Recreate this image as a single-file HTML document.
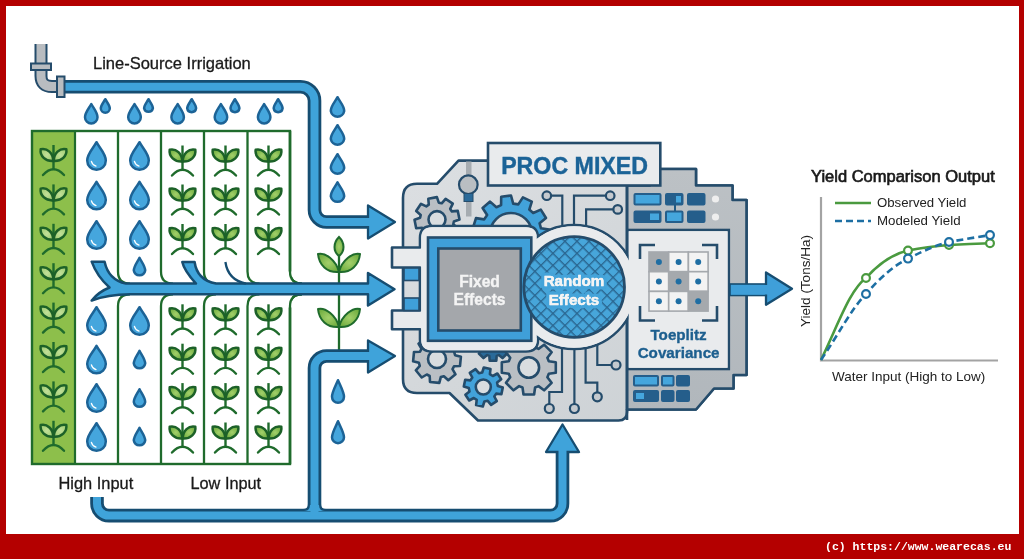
<!DOCTYPE html>
<html><head><meta charset="utf-8"><style>
html,body{margin:0;padding:0;width:1024px;height:559px;overflow:hidden;background:#b40000;}
#frame{position:absolute;left:6px;top:6px;width:1013px;height:528px;background:#ffffff;}
svg{position:absolute;left:0;top:0;will-change:transform;}
text{font-family:"Liberation Sans",sans-serif;}
#copy{position:absolute;left:825px;top:539px;font-family:"Liberation Mono",monospace;font-weight:bold;font-size:11.5px;color:#fff;white-space:pre;line-height:16px;}
</style></head><body>
<div id="frame"></div>
<svg width="1024" height="559" viewBox="0 0 1024 559">
<defs><radialGradient id="lg" cx="0.5" cy="0.5" r="0.6"><stop offset="0" stop-color="#a3d06b"/><stop offset="1" stop-color="#6dab3d"/></radialGradient><radialGradient id="lg1" cx="0.5" cy="0.5" r="0.6"><stop offset="0" stop-color="#c2e09a"/><stop offset="1" stop-color="#9fcc6e"/></radialGradient></defs>
<rect x="32" y="131" width="43" height="333" fill="#8dbf4b"/>
<path d="M53.5,145.0 L53.5,169.0" stroke="#1f6b2c" stroke-width="2.4" fill="none"/>
<path d="M40.7,149.2 C39.6,155.9 45.6,161.5 53.2,161.0 C53.3,153.4 47.3,147.7 40.7,149.2Z" fill="url(#lg1)" stroke="#1c6128" stroke-width="2.5" stroke-linejoin="round"/>
<path d="M66.3,149.2 C67.4,155.9 61.4,161.5 53.8,161.0 C53.7,153.4 59.7,147.7 66.3,149.2Z" fill="url(#lg1)" stroke="#1c6128" stroke-width="2.5" stroke-linejoin="round"/>
<path d="M43.0,175.0 Q53.5,163.4 64.0,175.0" stroke="#1f6b2c" stroke-width="2.4" fill="none" stroke-linecap="round"/>
<path d="M53.5,184.4 L53.5,208.4" stroke="#1f6b2c" stroke-width="2.4" fill="none"/>
<path d="M40.7,188.6 C39.6,195.3 45.6,200.9 53.2,200.4 C53.3,192.8 47.3,187.1 40.7,188.6Z" fill="url(#lg1)" stroke="#1c6128" stroke-width="2.5" stroke-linejoin="round"/>
<path d="M66.3,188.6 C67.4,195.3 61.4,200.9 53.8,200.4 C53.7,192.8 59.7,187.1 66.3,188.6Z" fill="url(#lg1)" stroke="#1c6128" stroke-width="2.5" stroke-linejoin="round"/>
<path d="M43.0,214.4 Q53.5,202.8 64.0,214.4" stroke="#1f6b2c" stroke-width="2.4" fill="none" stroke-linecap="round"/>
<path d="M53.5,223.8 L53.5,247.8" stroke="#1f6b2c" stroke-width="2.4" fill="none"/>
<path d="M40.7,228.0 C39.6,234.7 45.6,240.3 53.2,239.8 C53.3,232.2 47.3,226.5 40.7,228.0Z" fill="url(#lg1)" stroke="#1c6128" stroke-width="2.5" stroke-linejoin="round"/>
<path d="M66.3,228.0 C67.4,234.7 61.4,240.3 53.8,239.8 C53.7,232.2 59.7,226.5 66.3,228.0Z" fill="url(#lg1)" stroke="#1c6128" stroke-width="2.5" stroke-linejoin="round"/>
<path d="M43.0,253.8 Q53.5,242.20000000000002 64.0,253.8" stroke="#1f6b2c" stroke-width="2.4" fill="none" stroke-linecap="round"/>
<path d="M53.5,263.2 L53.5,287.2" stroke="#1f6b2c" stroke-width="2.4" fill="none"/>
<path d="M40.7,267.4 C39.6,274.1 45.6,279.7 53.2,279.2 C53.3,271.6 47.3,265.9 40.7,267.4Z" fill="url(#lg1)" stroke="#1c6128" stroke-width="2.5" stroke-linejoin="round"/>
<path d="M66.3,267.4 C67.4,274.1 61.4,279.7 53.8,279.2 C53.7,271.6 59.7,265.9 66.3,267.4Z" fill="url(#lg1)" stroke="#1c6128" stroke-width="2.5" stroke-linejoin="round"/>
<path d="M43.0,293.2 Q53.5,281.59999999999997 64.0,293.2" stroke="#1f6b2c" stroke-width="2.4" fill="none" stroke-linecap="round"/>
<path d="M53.5,302.6 L53.5,326.6" stroke="#1f6b2c" stroke-width="2.4" fill="none"/>
<path d="M40.7,306.8 C39.6,313.5 45.6,319.1 53.2,318.6 C53.3,311.0 47.3,305.3 40.7,306.8Z" fill="url(#lg1)" stroke="#1c6128" stroke-width="2.5" stroke-linejoin="round"/>
<path d="M66.3,306.8 C67.4,313.5 61.4,319.1 53.8,318.6 C53.7,311.0 59.7,305.3 66.3,306.8Z" fill="url(#lg1)" stroke="#1c6128" stroke-width="2.5" stroke-linejoin="round"/>
<path d="M43.0,332.6 Q53.5,321.0 64.0,332.6" stroke="#1f6b2c" stroke-width="2.4" fill="none" stroke-linecap="round"/>
<path d="M53.5,342.0 L53.5,366.0" stroke="#1f6b2c" stroke-width="2.4" fill="none"/>
<path d="M40.7,346.2 C39.6,352.9 45.6,358.5 53.2,358.0 C53.3,350.4 47.3,344.7 40.7,346.2Z" fill="url(#lg1)" stroke="#1c6128" stroke-width="2.5" stroke-linejoin="round"/>
<path d="M66.3,346.2 C67.4,352.9 61.4,358.5 53.8,358.0 C53.7,350.4 59.7,344.7 66.3,346.2Z" fill="url(#lg1)" stroke="#1c6128" stroke-width="2.5" stroke-linejoin="round"/>
<path d="M43.0,372.0 Q53.5,360.4 64.0,372.0" stroke="#1f6b2c" stroke-width="2.4" fill="none" stroke-linecap="round"/>
<path d="M53.5,381.4 L53.5,405.4" stroke="#1f6b2c" stroke-width="2.4" fill="none"/>
<path d="M40.7,385.6 C39.6,392.3 45.6,397.9 53.2,397.4 C53.3,389.8 47.3,384.1 40.7,385.6Z" fill="url(#lg1)" stroke="#1c6128" stroke-width="2.5" stroke-linejoin="round"/>
<path d="M66.3,385.6 C67.4,392.3 61.4,397.9 53.8,397.4 C53.7,389.8 59.7,384.1 66.3,385.6Z" fill="url(#lg1)" stroke="#1c6128" stroke-width="2.5" stroke-linejoin="round"/>
<path d="M43.0,411.4 Q53.5,399.79999999999995 64.0,411.4" stroke="#1f6b2c" stroke-width="2.4" fill="none" stroke-linecap="round"/>
<path d="M53.5,420.8 L53.5,444.8" stroke="#1f6b2c" stroke-width="2.4" fill="none"/>
<path d="M40.7,425.0 C39.6,431.7 45.6,437.3 53.2,436.8 C53.3,429.2 47.3,423.5 40.7,425.0Z" fill="url(#lg1)" stroke="#1c6128" stroke-width="2.5" stroke-linejoin="round"/>
<path d="M66.3,425.0 C67.4,431.7 61.4,437.3 53.8,436.8 C53.7,429.2 59.7,423.5 66.3,425.0Z" fill="url(#lg1)" stroke="#1c6128" stroke-width="2.5" stroke-linejoin="round"/>
<path d="M43.0,450.8 Q53.5,439.2 64.0,450.8" stroke="#1f6b2c" stroke-width="2.4" fill="none" stroke-linecap="round"/>
<path d="M58,86.8 L300.5,86.8 A14,14 0 0 1 314.5,100.8 L314.5,210 A12,12 0 0 0 326.5,222 L373,222" fill="none" stroke="#164d71" stroke-width="13.6" stroke-linejoin="round"/>
<path d="M368,205.5 L395,222 L368,238.5 Z" fill="#3fa3da" stroke="#164d71" stroke-width="2.3" stroke-linejoin="round"/>
<path d="M58,86.8 L300.5,86.8 A14,14 0 0 1 314.5,100.8 L314.5,210 A12,12 0 0 0 326.5,222 L373,222" fill="none" stroke="#3fa3da" stroke-width="8" stroke-linejoin="round"/>
<rect x="32" y="131" width="258" height="333" fill="none" stroke="#1f6b2c" stroke-width="2.4"/>
<line x1="75" y1="131" x2="75" y2="464" stroke="#1f6b2c" stroke-width="2.2"/>
<path d="M118,131 L118,271.6 Q118,283.6 130,283.6" fill="none" stroke="#1f6b2c" stroke-width="2.3"/>
<path d="M161,131 L161,271.6 Q161,283.6 173,283.6" fill="none" stroke="#1f6b2c" stroke-width="2.3"/>
<path d="M204,131 L204,271.6 Q204,283.6 216,283.6" fill="none" stroke="#1f6b2c" stroke-width="2.3"/>
<path d="M247.5,131 L247.5,271.6 Q247.5,283.6 259.5,283.6" fill="none" stroke="#1f6b2c" stroke-width="2.3"/>
<path d="M290,131 L290,271.6 Q290,283.6 302,283.6" fill="none" stroke="#1f6b2c" stroke-width="2.3"/>
<path d="M118,464 L118,306.3 Q118,294.3 130,294.3" fill="none" stroke="#1f6b2c" stroke-width="2.3"/>
<path d="M161,464 L161,306.3 Q161,294.3 173,294.3" fill="none" stroke="#1f6b2c" stroke-width="2.3"/>
<path d="M204,464 L204,306.3 Q204,294.3 216,294.3" fill="none" stroke="#1f6b2c" stroke-width="2.3"/>
<path d="M247.5,464 L247.5,306.3 Q247.5,294.3 259.5,294.3" fill="none" stroke="#1f6b2c" stroke-width="2.3"/>
<path d="M290,464 L290,306.3 Q290,294.3 302,294.3" fill="none" stroke="#1f6b2c" stroke-width="2.3"/>
<rect x="288" y="271.5" width="4" height="36" fill="#ffffff"/>
<path d="M290,131 L290,271.6 Q290,283.6 302,283.6" fill="none" stroke="#1f6b2c" stroke-width="2.3"/>
<path d="M290,464 L290,306.3 Q290,294.3 302,294.3" fill="none" stroke="#1f6b2c" stroke-width="2.3"/>
<path d="M339,250 L339,350" stroke="#1f6b2c" stroke-width="2.3"/>
<path d="M91.7,261.7 L104.6,261.7 C107,273 114,281 126,283.6 L196,283.6 C190,277 184,270 182.3,262 L194.6,262 C196,272 202,281 216,283.6 L368,283.6 L368,273 L394.5,289.2 L368,305.5 L368,294.3 L130,294.3 C114,294.5 101,297 91.7,300.5 C96,295 102,290.5 109.5,287.5 C101,280 95,271 91.7,261.7 Z" fill="#3fa3da" stroke="#164d71" stroke-width="2.5" stroke-linejoin="round"/>
<path d="M225.4,262 C227,273 233,281 246,283.6" fill="none" stroke="#164d71" stroke-width="2.3"/>
<path d="M96.5,142.2 C99.7,148.3 105.8,153.6 105.8,160.5 A9.2,9.2 0 0 1 87.2,160.5 C87.2,153.6 93.3,148.3 96.5,142.2Z" fill="#45a6dd" stroke="#1c6396" stroke-width="2.5" stroke-linejoin="round"/>
<path d="M91.4,161.4 Q92.3,165.1 96.0,166.1" fill="none" stroke="#ffffff" stroke-width="1.3" stroke-linecap="round"/>
<path d="M96.5,181.8 C99.7,187.8 105.8,193.1 105.8,200.0 A9.2,9.2 0 0 1 87.2,200.0 C87.2,193.1 93.3,187.8 96.5,181.8Z" fill="#45a6dd" stroke="#1c6396" stroke-width="2.5" stroke-linejoin="round"/>
<path d="M91.4,200.9 Q92.3,204.6 96.0,205.6" fill="none" stroke="#ffffff" stroke-width="1.3" stroke-linecap="round"/>
<path d="M96.5,221.2 C99.7,227.3 105.8,232.6 105.8,239.5 A9.2,9.2 0 0 1 87.2,239.5 C87.2,232.6 93.3,227.3 96.5,221.2Z" fill="#45a6dd" stroke="#1c6396" stroke-width="2.5" stroke-linejoin="round"/>
<path d="M91.4,240.4 Q92.3,244.1 96.0,245.1" fill="none" stroke="#ffffff" stroke-width="1.3" stroke-linecap="round"/>
<path d="M139.5,142.2 C142.7,148.3 148.8,153.6 148.8,160.5 A9.2,9.2 0 0 1 130.2,160.5 C130.2,153.6 136.3,148.3 139.5,142.2Z" fill="#45a6dd" stroke="#1c6396" stroke-width="2.5" stroke-linejoin="round"/>
<path d="M134.4,161.4 Q135.3,165.1 139.0,166.1" fill="none" stroke="#ffffff" stroke-width="1.3" stroke-linecap="round"/>
<path d="M139.5,181.8 C142.7,187.8 148.8,193.1 148.8,200.0 A9.2,9.2 0 0 1 130.2,200.0 C130.2,193.1 136.3,187.8 139.5,181.8Z" fill="#45a6dd" stroke="#1c6396" stroke-width="2.5" stroke-linejoin="round"/>
<path d="M134.4,200.9 Q135.3,204.6 139.0,205.6" fill="none" stroke="#ffffff" stroke-width="1.3" stroke-linecap="round"/>
<path d="M139.5,221.2 C142.7,227.3 148.8,232.6 148.8,239.5 A9.2,9.2 0 0 1 130.2,239.5 C130.2,232.6 136.3,227.3 139.5,221.2Z" fill="#45a6dd" stroke="#1c6396" stroke-width="2.5" stroke-linejoin="round"/>
<path d="M134.4,240.4 Q135.3,244.1 139.0,245.1" fill="none" stroke="#ffffff" stroke-width="1.3" stroke-linecap="round"/>
<path d="M139.5,257.8 C141.5,261.8 145.2,266.2 145.2,270.5 A5.8,5.8 0 0 1 133.8,270.5 C133.8,266.2 137.5,261.8 139.5,257.8Z" fill="#45a6dd" stroke="#1c6396" stroke-width="2.5" stroke-linejoin="round"/>
<path d="M96.5,307.2 C99.7,313.3 105.8,318.6 105.8,325.5 A9.2,9.2 0 0 1 87.2,325.5 C87.2,318.6 93.3,313.3 96.5,307.2Z" fill="#45a6dd" stroke="#1c6396" stroke-width="2.5" stroke-linejoin="round"/>
<path d="M91.4,326.4 Q92.3,330.1 96.0,331.1" fill="none" stroke="#ffffff" stroke-width="1.3" stroke-linecap="round"/>
<path d="M96.5,345.8 C99.7,351.8 105.8,357.1 105.8,364.0 A9.2,9.2 0 0 1 87.2,364.0 C87.2,357.1 93.3,351.8 96.5,345.8Z" fill="#45a6dd" stroke="#1c6396" stroke-width="2.5" stroke-linejoin="round"/>
<path d="M91.4,364.9 Q92.3,368.6 96.0,369.6" fill="none" stroke="#ffffff" stroke-width="1.3" stroke-linecap="round"/>
<path d="M96.5,384.2 C99.7,390.3 105.8,395.6 105.8,402.5 A9.2,9.2 0 0 1 87.2,402.5 C87.2,395.6 93.3,390.3 96.5,384.2Z" fill="#45a6dd" stroke="#1c6396" stroke-width="2.5" stroke-linejoin="round"/>
<path d="M91.4,403.4 Q92.3,407.1 96.0,408.1" fill="none" stroke="#ffffff" stroke-width="1.3" stroke-linecap="round"/>
<path d="M96.5,423.2 C99.7,429.3 105.8,434.6 105.8,441.5 A9.2,9.2 0 0 1 87.2,441.5 C87.2,434.6 93.3,429.3 96.5,423.2Z" fill="#45a6dd" stroke="#1c6396" stroke-width="2.5" stroke-linejoin="round"/>
<path d="M91.4,442.4 Q92.3,446.1 96.0,447.1" fill="none" stroke="#ffffff" stroke-width="1.3" stroke-linecap="round"/>
<path d="M139.5,307.2 C142.7,313.3 148.8,318.6 148.8,325.5 A9.2,9.2 0 0 1 130.2,325.5 C130.2,318.6 136.3,313.3 139.5,307.2Z" fill="#45a6dd" stroke="#1c6396" stroke-width="2.5" stroke-linejoin="round"/>
<path d="M134.4,326.4 Q135.3,330.1 139.0,331.1" fill="none" stroke="#ffffff" stroke-width="1.3" stroke-linecap="round"/>
<path d="M139.5,350.8 C141.5,354.8 145.2,359.2 145.2,363.5 A5.8,5.8 0 0 1 133.8,363.5 C133.8,359.2 137.5,354.8 139.5,350.8Z" fill="#45a6dd" stroke="#1c6396" stroke-width="2.5" stroke-linejoin="round"/>
<path d="M139.5,389.2 C141.5,393.3 145.2,397.7 145.2,402.0 A5.8,5.8 0 0 1 133.8,402.0 C133.8,397.7 137.5,393.3 139.5,389.2Z" fill="#45a6dd" stroke="#1c6396" stroke-width="2.5" stroke-linejoin="round"/>
<path d="M139.5,427.8 C141.5,431.8 145.2,436.2 145.2,440.5 A5.8,5.8 0 0 1 133.8,440.5 C133.8,436.2 137.5,431.8 139.5,427.8Z" fill="#45a6dd" stroke="#1c6396" stroke-width="2.5" stroke-linejoin="round"/>
<path d="M182.5,145.5 L182.5,169.5" stroke="#1f6b2c" stroke-width="2.4" fill="none"/>
<path d="M169.7,149.7 C168.6,156.4 174.6,162.0 182.2,161.5 C182.3,153.9 176.3,148.2 169.7,149.7Z" fill="url(#lg)" stroke="#1c6128" stroke-width="2.5" stroke-linejoin="round"/>
<path d="M195.3,149.7 C196.4,156.4 190.4,162.0 182.8,161.5 C182.7,153.9 188.7,148.2 195.3,149.7Z" fill="url(#lg)" stroke="#1c6128" stroke-width="2.5" stroke-linejoin="round"/>
<path d="M172.0,175.5 Q182.5,163.9 193.0,175.5" stroke="#1f6b2c" stroke-width="2.4" fill="none" stroke-linecap="round"/>
<path d="M182.5,184.5 L182.5,208.5" stroke="#1f6b2c" stroke-width="2.4" fill="none"/>
<path d="M169.7,188.7 C168.6,195.4 174.6,201.0 182.2,200.5 C182.3,192.9 176.3,187.2 169.7,188.7Z" fill="url(#lg)" stroke="#1c6128" stroke-width="2.5" stroke-linejoin="round"/>
<path d="M195.3,188.7 C196.4,195.4 190.4,201.0 182.8,200.5 C182.7,192.9 188.7,187.2 195.3,188.7Z" fill="url(#lg)" stroke="#1c6128" stroke-width="2.5" stroke-linejoin="round"/>
<path d="M172.0,214.5 Q182.5,202.9 193.0,214.5" stroke="#1f6b2c" stroke-width="2.4" fill="none" stroke-linecap="round"/>
<path d="M182.5,224.0 L182.5,248.0" stroke="#1f6b2c" stroke-width="2.4" fill="none"/>
<path d="M169.7,228.2 C168.6,234.9 174.6,240.5 182.2,240.0 C182.3,232.4 176.3,226.7 169.7,228.2Z" fill="url(#lg)" stroke="#1c6128" stroke-width="2.5" stroke-linejoin="round"/>
<path d="M195.3,228.2 C196.4,234.9 190.4,240.5 182.8,240.0 C182.7,232.4 188.7,226.7 195.3,228.2Z" fill="url(#lg)" stroke="#1c6128" stroke-width="2.5" stroke-linejoin="round"/>
<path d="M172.0,254.0 Q182.5,242.4 193.0,254.0" stroke="#1f6b2c" stroke-width="2.4" fill="none" stroke-linecap="round"/>
<path d="M182.5,304.3 L182.5,328.3" stroke="#1f6b2c" stroke-width="2.4" fill="none"/>
<path d="M169.7,308.5 C168.6,315.2 174.6,320.8 182.2,320.3 C182.3,312.7 176.3,307.0 169.7,308.5Z" fill="url(#lg)" stroke="#1c6128" stroke-width="2.5" stroke-linejoin="round"/>
<path d="M195.3,308.5 C196.4,315.2 190.4,320.8 182.8,320.3 C182.7,312.7 188.7,307.0 195.3,308.5Z" fill="url(#lg)" stroke="#1c6128" stroke-width="2.5" stroke-linejoin="round"/>
<path d="M172.0,334.3 Q182.5,322.7 193.0,334.3" stroke="#1f6b2c" stroke-width="2.4" fill="none" stroke-linecap="round"/>
<path d="M182.5,343.7 L182.5,367.7" stroke="#1f6b2c" stroke-width="2.4" fill="none"/>
<path d="M169.7,347.9 C168.6,354.6 174.6,360.2 182.2,359.7 C182.3,352.1 176.3,346.4 169.7,347.9Z" fill="url(#lg)" stroke="#1c6128" stroke-width="2.5" stroke-linejoin="round"/>
<path d="M195.3,347.9 C196.4,354.6 190.4,360.2 182.8,359.7 C182.7,352.1 188.7,346.4 195.3,347.9Z" fill="url(#lg)" stroke="#1c6128" stroke-width="2.5" stroke-linejoin="round"/>
<path d="M172.0,373.7 Q182.5,362.09999999999997 193.0,373.7" stroke="#1f6b2c" stroke-width="2.4" fill="none" stroke-linecap="round"/>
<path d="M182.5,383.1 L182.5,407.1" stroke="#1f6b2c" stroke-width="2.4" fill="none"/>
<path d="M169.7,387.3 C168.6,394.0 174.6,399.6 182.2,399.1 C182.3,391.5 176.3,385.8 169.7,387.3Z" fill="url(#lg)" stroke="#1c6128" stroke-width="2.5" stroke-linejoin="round"/>
<path d="M195.3,387.3 C196.4,394.0 190.4,399.6 182.8,399.1 C182.7,391.5 188.7,385.8 195.3,387.3Z" fill="url(#lg)" stroke="#1c6128" stroke-width="2.5" stroke-linejoin="round"/>
<path d="M172.0,413.1 Q182.5,401.5 193.0,413.1" stroke="#1f6b2c" stroke-width="2.4" fill="none" stroke-linecap="round"/>
<path d="M182.5,422.5 L182.5,446.5" stroke="#1f6b2c" stroke-width="2.4" fill="none"/>
<path d="M169.7,426.7 C168.6,433.4 174.6,439.0 182.2,438.5 C182.3,430.9 176.3,425.2 169.7,426.7Z" fill="url(#lg)" stroke="#1c6128" stroke-width="2.5" stroke-linejoin="round"/>
<path d="M195.3,426.7 C196.4,433.4 190.4,439.0 182.8,438.5 C182.7,430.9 188.7,425.2 195.3,426.7Z" fill="url(#lg)" stroke="#1c6128" stroke-width="2.5" stroke-linejoin="round"/>
<path d="M172.0,452.5 Q182.5,440.9 193.0,452.5" stroke="#1f6b2c" stroke-width="2.4" fill="none" stroke-linecap="round"/>
<path d="M225.5,145.5 L225.5,169.5" stroke="#1f6b2c" stroke-width="2.4" fill="none"/>
<path d="M212.7,149.7 C211.6,156.4 217.6,162.0 225.2,161.5 C225.3,153.9 219.3,148.2 212.7,149.7Z" fill="url(#lg)" stroke="#1c6128" stroke-width="2.5" stroke-linejoin="round"/>
<path d="M238.3,149.7 C239.4,156.4 233.4,162.0 225.8,161.5 C225.7,153.9 231.7,148.2 238.3,149.7Z" fill="url(#lg)" stroke="#1c6128" stroke-width="2.5" stroke-linejoin="round"/>
<path d="M215.0,175.5 Q225.5,163.9 236.0,175.5" stroke="#1f6b2c" stroke-width="2.4" fill="none" stroke-linecap="round"/>
<path d="M225.5,184.5 L225.5,208.5" stroke="#1f6b2c" stroke-width="2.4" fill="none"/>
<path d="M212.7,188.7 C211.6,195.4 217.6,201.0 225.2,200.5 C225.3,192.9 219.3,187.2 212.7,188.7Z" fill="url(#lg)" stroke="#1c6128" stroke-width="2.5" stroke-linejoin="round"/>
<path d="M238.3,188.7 C239.4,195.4 233.4,201.0 225.8,200.5 C225.7,192.9 231.7,187.2 238.3,188.7Z" fill="url(#lg)" stroke="#1c6128" stroke-width="2.5" stroke-linejoin="round"/>
<path d="M215.0,214.5 Q225.5,202.9 236.0,214.5" stroke="#1f6b2c" stroke-width="2.4" fill="none" stroke-linecap="round"/>
<path d="M225.5,224.0 L225.5,248.0" stroke="#1f6b2c" stroke-width="2.4" fill="none"/>
<path d="M212.7,228.2 C211.6,234.9 217.6,240.5 225.2,240.0 C225.3,232.4 219.3,226.7 212.7,228.2Z" fill="url(#lg)" stroke="#1c6128" stroke-width="2.5" stroke-linejoin="round"/>
<path d="M238.3,228.2 C239.4,234.9 233.4,240.5 225.8,240.0 C225.7,232.4 231.7,226.7 238.3,228.2Z" fill="url(#lg)" stroke="#1c6128" stroke-width="2.5" stroke-linejoin="round"/>
<path d="M215.0,254.0 Q225.5,242.4 236.0,254.0" stroke="#1f6b2c" stroke-width="2.4" fill="none" stroke-linecap="round"/>
<path d="M225.5,304.3 L225.5,328.3" stroke="#1f6b2c" stroke-width="2.4" fill="none"/>
<path d="M212.7,308.5 C211.6,315.2 217.6,320.8 225.2,320.3 C225.3,312.7 219.3,307.0 212.7,308.5Z" fill="url(#lg)" stroke="#1c6128" stroke-width="2.5" stroke-linejoin="round"/>
<path d="M238.3,308.5 C239.4,315.2 233.4,320.8 225.8,320.3 C225.7,312.7 231.7,307.0 238.3,308.5Z" fill="url(#lg)" stroke="#1c6128" stroke-width="2.5" stroke-linejoin="round"/>
<path d="M215.0,334.3 Q225.5,322.7 236.0,334.3" stroke="#1f6b2c" stroke-width="2.4" fill="none" stroke-linecap="round"/>
<path d="M225.5,343.7 L225.5,367.7" stroke="#1f6b2c" stroke-width="2.4" fill="none"/>
<path d="M212.7,347.9 C211.6,354.6 217.6,360.2 225.2,359.7 C225.3,352.1 219.3,346.4 212.7,347.9Z" fill="url(#lg)" stroke="#1c6128" stroke-width="2.5" stroke-linejoin="round"/>
<path d="M238.3,347.9 C239.4,354.6 233.4,360.2 225.8,359.7 C225.7,352.1 231.7,346.4 238.3,347.9Z" fill="url(#lg)" stroke="#1c6128" stroke-width="2.5" stroke-linejoin="round"/>
<path d="M215.0,373.7 Q225.5,362.09999999999997 236.0,373.7" stroke="#1f6b2c" stroke-width="2.4" fill="none" stroke-linecap="round"/>
<path d="M225.5,383.1 L225.5,407.1" stroke="#1f6b2c" stroke-width="2.4" fill="none"/>
<path d="M212.7,387.3 C211.6,394.0 217.6,399.6 225.2,399.1 C225.3,391.5 219.3,385.8 212.7,387.3Z" fill="url(#lg)" stroke="#1c6128" stroke-width="2.5" stroke-linejoin="round"/>
<path d="M238.3,387.3 C239.4,394.0 233.4,399.6 225.8,399.1 C225.7,391.5 231.7,385.8 238.3,387.3Z" fill="url(#lg)" stroke="#1c6128" stroke-width="2.5" stroke-linejoin="round"/>
<path d="M215.0,413.1 Q225.5,401.5 236.0,413.1" stroke="#1f6b2c" stroke-width="2.4" fill="none" stroke-linecap="round"/>
<path d="M225.5,422.5 L225.5,446.5" stroke="#1f6b2c" stroke-width="2.4" fill="none"/>
<path d="M212.7,426.7 C211.6,433.4 217.6,439.0 225.2,438.5 C225.3,430.9 219.3,425.2 212.7,426.7Z" fill="url(#lg)" stroke="#1c6128" stroke-width="2.5" stroke-linejoin="round"/>
<path d="M238.3,426.7 C239.4,433.4 233.4,439.0 225.8,438.5 C225.7,430.9 231.7,425.2 238.3,426.7Z" fill="url(#lg)" stroke="#1c6128" stroke-width="2.5" stroke-linejoin="round"/>
<path d="M215.0,452.5 Q225.5,440.9 236.0,452.5" stroke="#1f6b2c" stroke-width="2.4" fill="none" stroke-linecap="round"/>
<path d="M268.5,145.5 L268.5,169.5" stroke="#1f6b2c" stroke-width="2.4" fill="none"/>
<path d="M255.7,149.7 C254.6,156.4 260.6,162.0 268.2,161.5 C268.3,153.9 262.3,148.2 255.7,149.7Z" fill="url(#lg)" stroke="#1c6128" stroke-width="2.5" stroke-linejoin="round"/>
<path d="M281.3,149.7 C282.4,156.4 276.4,162.0 268.8,161.5 C268.7,153.9 274.7,148.2 281.3,149.7Z" fill="url(#lg)" stroke="#1c6128" stroke-width="2.5" stroke-linejoin="round"/>
<path d="M258.0,175.5 Q268.5,163.9 279.0,175.5" stroke="#1f6b2c" stroke-width="2.4" fill="none" stroke-linecap="round"/>
<path d="M268.5,184.5 L268.5,208.5" stroke="#1f6b2c" stroke-width="2.4" fill="none"/>
<path d="M255.7,188.7 C254.6,195.4 260.6,201.0 268.2,200.5 C268.3,192.9 262.3,187.2 255.7,188.7Z" fill="url(#lg)" stroke="#1c6128" stroke-width="2.5" stroke-linejoin="round"/>
<path d="M281.3,188.7 C282.4,195.4 276.4,201.0 268.8,200.5 C268.7,192.9 274.7,187.2 281.3,188.7Z" fill="url(#lg)" stroke="#1c6128" stroke-width="2.5" stroke-linejoin="round"/>
<path d="M258.0,214.5 Q268.5,202.9 279.0,214.5" stroke="#1f6b2c" stroke-width="2.4" fill="none" stroke-linecap="round"/>
<path d="M268.5,224.0 L268.5,248.0" stroke="#1f6b2c" stroke-width="2.4" fill="none"/>
<path d="M255.7,228.2 C254.6,234.9 260.6,240.5 268.2,240.0 C268.3,232.4 262.3,226.7 255.7,228.2Z" fill="url(#lg)" stroke="#1c6128" stroke-width="2.5" stroke-linejoin="round"/>
<path d="M281.3,228.2 C282.4,234.9 276.4,240.5 268.8,240.0 C268.7,232.4 274.7,226.7 281.3,228.2Z" fill="url(#lg)" stroke="#1c6128" stroke-width="2.5" stroke-linejoin="round"/>
<path d="M258.0,254.0 Q268.5,242.4 279.0,254.0" stroke="#1f6b2c" stroke-width="2.4" fill="none" stroke-linecap="round"/>
<path d="M268.5,304.3 L268.5,328.3" stroke="#1f6b2c" stroke-width="2.4" fill="none"/>
<path d="M255.7,308.5 C254.6,315.2 260.6,320.8 268.2,320.3 C268.3,312.7 262.3,307.0 255.7,308.5Z" fill="url(#lg)" stroke="#1c6128" stroke-width="2.5" stroke-linejoin="round"/>
<path d="M281.3,308.5 C282.4,315.2 276.4,320.8 268.8,320.3 C268.7,312.7 274.7,307.0 281.3,308.5Z" fill="url(#lg)" stroke="#1c6128" stroke-width="2.5" stroke-linejoin="round"/>
<path d="M258.0,334.3 Q268.5,322.7 279.0,334.3" stroke="#1f6b2c" stroke-width="2.4" fill="none" stroke-linecap="round"/>
<path d="M268.5,343.7 L268.5,367.7" stroke="#1f6b2c" stroke-width="2.4" fill="none"/>
<path d="M255.7,347.9 C254.6,354.6 260.6,360.2 268.2,359.7 C268.3,352.1 262.3,346.4 255.7,347.9Z" fill="url(#lg)" stroke="#1c6128" stroke-width="2.5" stroke-linejoin="round"/>
<path d="M281.3,347.9 C282.4,354.6 276.4,360.2 268.8,359.7 C268.7,352.1 274.7,346.4 281.3,347.9Z" fill="url(#lg)" stroke="#1c6128" stroke-width="2.5" stroke-linejoin="round"/>
<path d="M258.0,373.7 Q268.5,362.09999999999997 279.0,373.7" stroke="#1f6b2c" stroke-width="2.4" fill="none" stroke-linecap="round"/>
<path d="M268.5,383.1 L268.5,407.1" stroke="#1f6b2c" stroke-width="2.4" fill="none"/>
<path d="M255.7,387.3 C254.6,394.0 260.6,399.6 268.2,399.1 C268.3,391.5 262.3,385.8 255.7,387.3Z" fill="url(#lg)" stroke="#1c6128" stroke-width="2.5" stroke-linejoin="round"/>
<path d="M281.3,387.3 C282.4,394.0 276.4,399.6 268.8,399.1 C268.7,391.5 274.7,385.8 281.3,387.3Z" fill="url(#lg)" stroke="#1c6128" stroke-width="2.5" stroke-linejoin="round"/>
<path d="M258.0,413.1 Q268.5,401.5 279.0,413.1" stroke="#1f6b2c" stroke-width="2.4" fill="none" stroke-linecap="round"/>
<path d="M268.5,422.5 L268.5,446.5" stroke="#1f6b2c" stroke-width="2.4" fill="none"/>
<path d="M255.7,426.7 C254.6,433.4 260.6,439.0 268.2,438.5 C268.3,430.9 262.3,425.2 255.7,426.7Z" fill="url(#lg)" stroke="#1c6128" stroke-width="2.5" stroke-linejoin="round"/>
<path d="M281.3,426.7 C282.4,433.4 276.4,439.0 268.8,438.5 C268.7,430.9 274.7,425.2 281.3,426.7Z" fill="url(#lg)" stroke="#1c6128" stroke-width="2.5" stroke-linejoin="round"/>
<path d="M258.0,452.5 Q268.5,440.9 279.0,452.5" stroke="#1f6b2c" stroke-width="2.4" fill="none" stroke-linecap="round"/>
<path d="M91.3,104.0 C93.5,108.2 97.5,112.5 97.5,117.2 A6.2,6.2 0 0 1 85.0,117.2 C85.0,112.5 89.1,108.2 91.3,104.0Z" fill="#45a6dd" stroke="#1c6396" stroke-width="2.5" stroke-linejoin="round"/>
<path d="M105.3,99.2 C106.9,102.2 109.8,105.0 109.8,108.3 A4.5,4.5 0 0 1 100.8,108.3 C100.8,105.0 103.7,102.2 105.3,99.2Z" fill="#45a6dd" stroke="#1c6396" stroke-width="2.5" stroke-linejoin="round"/>
<path d="M134.5,104.0 C136.7,108.2 140.8,112.5 140.8,117.2 A6.2,6.2 0 0 1 128.2,117.2 C128.2,112.5 132.3,108.2 134.5,104.0Z" fill="#45a6dd" stroke="#1c6396" stroke-width="2.5" stroke-linejoin="round"/>
<path d="M148.5,99.2 C150.1,102.2 152.9,105.0 152.9,108.3 A4.5,4.5 0 0 1 144.1,108.3 C144.1,105.0 146.9,102.2 148.5,99.2Z" fill="#45a6dd" stroke="#1c6396" stroke-width="2.5" stroke-linejoin="round"/>
<path d="M177.7,104.0 C179.9,108.2 183.9,112.5 183.9,117.2 A6.2,6.2 0 0 1 171.4,117.2 C171.4,112.5 175.5,108.2 177.7,104.0Z" fill="#45a6dd" stroke="#1c6396" stroke-width="2.5" stroke-linejoin="round"/>
<path d="M191.7,99.2 C193.3,102.2 196.1,105.0 196.1,108.3 A4.5,4.5 0 0 1 187.2,108.3 C187.2,105.0 190.1,102.2 191.7,99.2Z" fill="#45a6dd" stroke="#1c6396" stroke-width="2.5" stroke-linejoin="round"/>
<path d="M220.9,104.0 C223.1,108.2 227.2,112.5 227.2,117.2 A6.2,6.2 0 0 1 214.7,117.2 C214.7,112.5 218.7,108.2 220.9,104.0Z" fill="#45a6dd" stroke="#1c6396" stroke-width="2.5" stroke-linejoin="round"/>
<path d="M234.9,99.2 C236.5,102.2 239.4,105.0 239.4,108.3 A4.5,4.5 0 0 1 230.5,108.3 C230.5,105.0 233.3,102.2 234.9,99.2Z" fill="#45a6dd" stroke="#1c6396" stroke-width="2.5" stroke-linejoin="round"/>
<path d="M264.1,104.0 C266.3,108.2 270.4,112.5 270.4,117.2 A6.2,6.2 0 0 1 257.9,117.2 C257.9,112.5 261.9,108.2 264.1,104.0Z" fill="#45a6dd" stroke="#1c6396" stroke-width="2.5" stroke-linejoin="round"/>
<path d="M278.1,99.2 C279.7,102.2 282.6,105.0 282.6,108.3 A4.5,4.5 0 0 1 273.7,108.3 C273.7,105.0 276.5,102.2 278.1,99.2Z" fill="#45a6dd" stroke="#1c6396" stroke-width="2.5" stroke-linejoin="round"/>
<path d="M337.5,97.2 C339.9,101.8 344.2,105.9 344.2,111.0 A6.8,6.8 0 0 1 330.8,111.0 C330.8,105.9 335.1,101.8 337.5,97.2Z" fill="#45a6dd" stroke="#1c6396" stroke-width="2.5" stroke-linejoin="round"/>
<path d="M337.5,125.2 C339.9,129.8 344.2,133.9 344.2,139.0 A6.8,6.8 0 0 1 330.8,139.0 C330.8,133.9 335.1,129.8 337.5,125.2Z" fill="#45a6dd" stroke="#1c6396" stroke-width="2.5" stroke-linejoin="round"/>
<path d="M337.5,154.2 C339.9,158.8 344.2,162.9 344.2,168.0 A6.8,6.8 0 0 1 330.8,168.0 C330.8,162.9 335.1,158.8 337.5,154.2Z" fill="#45a6dd" stroke="#1c6396" stroke-width="2.5" stroke-linejoin="round"/>
<path d="M337.5,182.4 C339.9,187.0 344.2,191.1 344.2,196.2 A6.8,6.8 0 0 1 330.8,196.2 C330.8,191.1 335.1,187.0 337.5,182.4Z" fill="#45a6dd" stroke="#1c6396" stroke-width="2.5" stroke-linejoin="round"/>
<path d="M339,237 C345,243 345,251 339,256 C333,251 333,243 339,237Z" fill="url(#lg)" stroke="#1f6b2c" stroke-width="2"/>
<path d="M339,272 C336,260 325,252 318,254 C319,265 327,273 339,272Z" fill="url(#lg)" stroke="#1f6b2c" stroke-width="2" stroke-linejoin="round"/>
<path d="M339,272 C342,260 353,252 360,254 C359,265 351,273 339,272Z" fill="url(#lg)" stroke="#1f6b2c" stroke-width="2" stroke-linejoin="round"/>
<path d="M339,327 C336,315 325,307 318,309 C319,320 327,328 339,327Z" fill="url(#lg)" stroke="#1f6b2c" stroke-width="2" stroke-linejoin="round"/>
<path d="M339,327 C342,315 353,307 360,309 C359,320 351,328 339,327Z" fill="url(#lg)" stroke="#1f6b2c" stroke-width="2" stroke-linejoin="round"/>
<path d="M97,497 L97,503.6 A12,12 0 0 0 109,515.6 L550.5,515.6 A12,12 0 0 0 562.5,503.6 L562.5,448" fill="none" stroke="#164d71" stroke-width="13.6" stroke-linejoin="round"/>
<path d="M314.5,515.6 L314.5,368 A12,12 0 0 1 326.5,356 L372,356" fill="none" stroke="#164d71" stroke-width="13.6" stroke-linejoin="round"/>
<path d="M368,340.5 L395,356 L368,372.5 Z" fill="#3fa3da" stroke="#164d71" stroke-width="2.3" stroke-linejoin="round"/>
<path d="M546,452 L562.5,424.5 L579,452 Z" fill="#3fa3da" stroke="#164d71" stroke-width="2.3" stroke-linejoin="round"/>
<path d="M303,509 Q308,509 308,504 L321,504 Q321,509 326,509 Z" fill="#164d71"/>
<path d="M97,497 L97,503.6 A12,12 0 0 0 109,515.6 L550.5,515.6 A12,12 0 0 0 562.5,503.6 L562.5,448" fill="none" stroke="#3fa3da" stroke-width="8" stroke-linejoin="round"/>
<path d="M314.5,515.6 L314.5,368 A12,12 0 0 1 326.5,356 L372,356" fill="none" stroke="#3fa3da" stroke-width="8" stroke-linejoin="round"/>
<path d="M304,511 Q310,511 310,505 L319,505 Q319,511 325,511 Z" fill="#3fa3da"/>
<path d="M338.0,380.2 C340.1,385.2 344.0,392.2 344.0,396.8 A6.0,6.0 0 0 1 332.0,396.8 C332.0,392.2 335.9,385.2 338.0,380.2Z" fill="#45a6dd" stroke="#1c6396" stroke-width="2.5" stroke-linejoin="round"/>
<path d="M338.0,421.2 C340.1,426.1 344.0,432.8 344.0,437.2 A6.0,6.0 0 0 1 332.0,437.2 C332.0,432.8 335.9,426.1 338.0,421.2Z" fill="#45a6dd" stroke="#1c6396" stroke-width="2.5" stroke-linejoin="round"/>
<path d="M41,44 L41,76 Q41,86.5 52,86.5 L60,86.5" fill="none" stroke="#254c6b" stroke-width="13" />
<path d="M41,44 L41,76 Q41,86.5 52,86.5 L60,86.5" fill="none" stroke="#b8bcc0" stroke-width="9" />
<rect x="31" y="63.5" width="20" height="6.5" fill="#b8bcc0" stroke="#254c6b" stroke-width="2"/>
<rect x="57" y="76.5" width="7.5" height="20.5" fill="#b8bcc0" stroke="#254c6b" stroke-width="2"/>
<text x="93" y="68.8" font-size="16.5" fill="#1a1a1a" font-weight="normal" text-anchor="start" stroke="#1a1a1a" stroke-width="0.3">Line-Source Irrigation</text>
<text x="58.5" y="488.7" font-size="16.4" fill="#1a1a1a" font-weight="normal" text-anchor="start" stroke="#1a1a1a" stroke-width="0.3">High Input</text>
<text x="190.5" y="488.7" font-size="16.3" fill="#1a1a1a" font-weight="normal" text-anchor="start" stroke="#1a1a1a" stroke-width="0.3">Low Input</text>
<defs>
<pattern id="hatch" patternUnits="userSpaceOnUse" width="8.5" height="8.5" patternTransform="rotate(45)">
<rect width="8.5" height="8.5" fill="#47a6da"/>
<path d="M0,0 L0,8.5 M0,0 L8.5,0" stroke="#2a6690" stroke-width="2.6"/>
</pattern>
<linearGradient id="gm" x1="0" y1="0" x2="1" y2="1">
<stop offset="0" stop-color="#dcdfe2"/><stop offset="0.5" stop-color="#d3d7da"/><stop offset="1" stop-color="#cbd0d4"/>
</linearGradient>
<linearGradient id="gs" x1="0" y1="0" x2="0" y2="1">
<stop offset="0" stop-color="#bcc1c5"/><stop offset="1" stop-color="#b1b7bc"/>
</linearGradient>
</defs>
<path d="M403,198 Q403,183.8 417,183.8 L437,183.8 L458.5,160.6 L489,160.6 L489,169 L696,169 L696,185.5 L732.5,185.5 L732.5,200 L746.5,200 L746.5,375 L733.5,375 L733.5,388.5 L714,388.5 L696,409.5 L627,409.5 L627,412 Q627,420.5 618.5,420.5 L478,420.5 L449.5,393 L417,393 Q403,393 403,379 Z" fill="url(#gm)" stroke="#254c6b" stroke-width="2.6" stroke-linejoin="round"/>
<path d="M627,185.5 L650,185.5 L650,169 L696,169 L696,185.5 L732.5,185.5 L732.5,200 L746.5,200 L746.5,375 L733.5,375 L733.5,388.5 L714,388.5 L696,409.5 L627,409.5 Z" fill="url(#gs)" stroke="#254c6b" stroke-width="2.6" stroke-linejoin="round"/>
<path d="M451.9,211.4 L457.8,210.9 L459.5,219.5 L453.9,221.4 L453.3,224.3 L457.8,228.2 L453.0,235.4 L447.7,232.8 L445.2,234.5 L445.7,240.4 L437.1,242.1 L435.2,236.5 L432.3,235.9 L428.4,240.4 L421.2,235.6 L423.8,230.3 L422.1,227.8 L416.2,228.3 L414.5,219.7 L420.1,217.8 L420.7,214.9 L416.2,211.0 L421.0,203.8 L426.3,206.4 L428.8,204.7 L428.3,198.8 L436.9,197.1 L438.8,202.7 L441.7,203.3 L445.6,198.8 L452.8,203.6 L450.2,208.9Z" fill="#babfc4" stroke="#254c6b" stroke-width="2.6" stroke-linejoin="round"/>
<circle cx="437" cy="219.6" r="8.5" fill="#d9dde0" stroke="#254c6b" stroke-width="2.6"/>
<path d="M501.1,205.1 L501.2,196.8 L511.0,195.5 L513.2,203.6 L518.3,204.4 L522.9,197.4 L531.8,201.6 L529.3,209.6 L533.2,213.0 L540.8,209.6 L546.0,218.0 L539.6,223.3 L541.0,228.3 L549.2,229.6 L549.1,239.4 L540.8,240.5 L539.3,245.5 L545.6,251.0 L540.1,259.2 L532.6,255.6 L528.6,258.9 L530.9,267.0 L521.9,270.9 L517.5,263.8 L512.3,264.5 L509.9,272.5 L500.2,271.0 L500.4,262.6 L495.6,260.4 L489.3,265.8 L481.9,259.2 L486.6,252.3 L483.8,247.9 L475.5,249.0 L472.9,239.5 L480.6,236.2 L480.7,231.0 L473.1,227.4 L476.0,218.1 L484.2,219.4 L487.1,215.0 L482.6,208.0 L490.1,201.6 L496.4,207.2Z" fill="#42a2da" stroke="#254c6b" stroke-width="2.6" stroke-linejoin="round"/>
<circle cx="511" cy="234" r="21" fill="#d9dde0" stroke="#254c6b" stroke-width="2.6"/>
<path d="M455.1,355.2 L460.9,356.7 L460.0,366.0 L454.0,366.3 L452.5,369.2 L455.5,374.3 L448.3,380.2 L443.9,376.2 L440.8,377.1 L439.3,382.9 L430.0,382.0 L429.7,376.0 L426.8,374.5 L421.7,377.5 L415.8,370.3 L419.8,365.9 L418.9,362.8 L413.1,361.3 L414.0,352.0 L420.0,351.7 L421.5,348.8 L418.5,343.7 L425.7,337.8 L430.1,341.8 L433.2,340.9 L434.7,335.1 L444.0,336.0 L444.3,342.0 L447.2,343.5 L452.3,340.5 L458.2,347.7 L454.2,352.1Z" fill="#babfc4" stroke="#254c6b" stroke-width="2.6" stroke-linejoin="round"/>
<circle cx="437" cy="359" r="9" fill="#d9dde0" stroke="#254c6b" stroke-width="2.6"/>
<path d="M504.9,340.3 L509.7,340.7 L509.7,347.3 L504.9,347.7 L504.1,349.8 L507.1,353.5 L502.5,358.1 L498.8,355.1 L496.7,355.9 L496.3,360.7 L489.7,360.7 L489.3,355.9 L487.2,355.1 L483.5,358.1 L478.9,353.5 L481.9,349.8 L481.1,347.7 L476.3,347.3 L476.3,340.7 L481.1,340.3 L481.9,338.2 L478.9,334.5 L483.5,329.9 L487.2,332.9 L489.3,332.1 L489.7,327.3 L496.3,327.3 L496.7,332.1 L498.8,332.9 L502.5,329.9 L507.1,334.5 L504.1,338.2Z" fill="#2a6a99" stroke="#254c6b" stroke-width="2.6" stroke-linejoin="round"/>
<circle cx="493" cy="344" r="6" fill="#d9dde0" stroke="#254c6b" stroke-width="2.6"/>
<path d="M497.8,385.9 L502.8,387.5 L501.4,394.2 L496.2,393.6 L494.3,396.5 L496.8,401.1 L491.1,404.9 L487.7,400.8 L484.4,401.5 L482.8,406.5 L476.1,405.1 L476.7,399.9 L473.8,398.0 L469.2,400.5 L465.4,394.8 L469.5,391.4 L468.8,388.1 L463.8,386.5 L465.2,379.8 L470.4,380.4 L472.3,377.5 L469.8,372.9 L475.5,369.1 L478.9,373.2 L482.2,372.5 L483.8,367.5 L490.5,368.9 L489.9,374.1 L492.8,376.0 L497.4,373.5 L501.2,379.2 L497.1,382.6Z" fill="#42a2da" stroke="#254c6b" stroke-width="2.6" stroke-linejoin="round"/>
<circle cx="483.3" cy="387" r="7.5" fill="#d9dde0" stroke="#254c6b" stroke-width="2.6"/>
<path d="M548.8,361.2 L555.8,362.2 L555.8,372.8 L548.8,373.8 L547.4,377.2 L551.6,382.8 L544.1,390.3 L538.5,386.1 L535.1,387.5 L534.1,394.5 L523.5,394.5 L522.5,387.5 L519.1,386.1 L513.5,390.3 L506.0,382.8 L510.2,377.2 L508.8,373.8 L501.8,372.8 L501.8,362.2 L508.8,361.2 L510.2,357.8 L506.0,352.2 L513.5,344.7 L519.1,348.9 L522.5,347.5 L523.5,340.5 L534.1,340.5 L535.1,347.5 L538.5,348.9 L544.1,344.7 L551.6,352.2 L547.4,357.8Z" fill="#babfc4" stroke="#254c6b" stroke-width="2.6" stroke-linejoin="round"/>
<circle cx="528.8" cy="367.5" r="10.3" fill="#d9dde0" stroke="#254c6b" stroke-width="2.6"/>
<rect x="466" y="161.5" width="5.5" height="55" fill="#a6acb1"/>
<circle cx="468.3" cy="184.7" r="9.3" fill="#b9bec2" stroke="#254c6b" stroke-width="2.2"/>
<rect x="464" y="193.5" width="9" height="8" fill="#2a6a99" stroke="#254c6b" stroke-width="1"/>
<path d="M551,195.7 L562.3,195.7 L562.3,232" fill="none" stroke="#254c6b" stroke-width="2.2"/>
<circle cx="546.8" cy="195.7" r="4.3" fill="#c5cacf" stroke="#254c6b" stroke-width="2.2"/>
<path d="M574,232 L574,195.7 L605.5,195.7" fill="none" stroke="#254c6b" stroke-width="2.2"/>
<circle cx="610.2" cy="195.7" r="4.3" fill="#c5cacf" stroke="#254c6b" stroke-width="2.2"/>
<path d="M586.1,232 L586.1,209.4 L613,209.4" fill="none" stroke="#254c6b" stroke-width="2.2"/>
<circle cx="617.7" cy="209.4" r="4.3" fill="#c5cacf" stroke="#254c6b" stroke-width="2.2"/>
<line x1="627" y1="185.5" x2="627" y2="420" stroke="#254c6b" stroke-width="2.6"/>
<path d="M562,345 L562,392 L549.3,392 L549.3,404" fill="none" stroke="#254c6b" stroke-width="2.2"/>
<circle cx="549.3" cy="408.5" r="4.5" fill="#c5cacf" stroke="#254c6b" stroke-width="2.2"/>
<path d="M574.4,347 L574.4,404" fill="none" stroke="#254c6b" stroke-width="2.2"/>
<circle cx="574.4" cy="408.5" r="4.5" fill="#c5cacf" stroke="#254c6b" stroke-width="2.2"/>
<path d="M585.6,345 L585.6,382.7 L597.3,382.7 L597.3,392" fill="none" stroke="#254c6b" stroke-width="2.2"/>
<circle cx="597.3" cy="396.8" r="4.5" fill="#c5cacf" stroke="#254c6b" stroke-width="2.2"/>
<path d="M597.3,340 L597.3,365 L611.5,365" fill="none" stroke="#254c6b" stroke-width="2.2"/>
<circle cx="616" cy="365" r="4.5" fill="#c5cacf" stroke="#254c6b" stroke-width="2.2"/>
<rect x="627.5" y="230" width="101.3" height="139" fill="#e9ebed" stroke="#254c6b" stroke-width="2.6"/>
<path d="M392,247.5 L420,247.5 L420,238 Q420,226 432,226 L526,226 Q538,226 538,238 L538,339.5 Q538,351.5 526,351.5 L432,351.5 Q420,351.5 420,339.5 L420,329.3 L392,329.3 L392,310.5 L420,310.5 L420,267.5 L392,267.5 Z" fill="#e9ebed" stroke="#254c6b" stroke-width="2.6" stroke-linejoin="round"/>
<circle cx="574" cy="287" r="62" fill="#e9ebed" stroke="#254c6b" stroke-width="2.6"/>
<path d="M421.2,238 Q421.2,227.2 432,227.2 L526,227.2 Q536.8,227.2 536.8,238 L536.8,339.5 Q536.8,350.3 526,350.3 L432,350.3 Q421.2,350.3 421.2,339.5 Z" fill="#e9ebed"/>
<circle cx="574" cy="287" r="60.8" fill="#e9ebed"/>
<rect x="404" y="268" width="15" height="12.5" fill="#3f9fd9" stroke="#254c6b" stroke-width="1.6"/>
<rect x="404" y="298" width="15" height="12.5" fill="#3f9fd9" stroke="#254c6b" stroke-width="1.6"/>
<rect x="428" y="237.5" width="103.3" height="103.3" fill="#3f9fd9" stroke="#254c6b" stroke-width="2.6"/>
<rect x="438.3" y="248.5" width="82.5" height="82" fill="#a4a7ab" stroke="#254c6b" stroke-width="2.6"/>
<text x="479.5" y="286.7" font-size="15.6" fill="#f4f4f4" font-weight="bold" text-anchor="middle" stroke="#f4f4f4" stroke-width="0.35">Fixed</text>
<text x="479.5" y="305" font-size="15.6" fill="#f4f4f4" font-weight="bold" text-anchor="middle" stroke="#f4f4f4" stroke-width="0.35">Effects</text>
<circle cx="574.2" cy="287" r="50.3" fill="url(#hatch)" stroke="#254c6b" stroke-width="2.8"/>
<text x="574" y="286.4" font-size="15.2" fill="#f4f4f4" font-weight="bold" text-anchor="middle" stroke="#44a3d9" stroke-width="7" stroke-linejoin="round" paint-order="stroke">Random</text>
<text x="574" y="286.4" font-size="15.2" fill="#f4f4f4" font-weight="bold" text-anchor="middle" stroke="#f4f4f4" stroke-width="0.35">Random</text>
<text x="574" y="305.2" font-size="15.2" fill="#f4f4f4" font-weight="bold" text-anchor="middle" stroke="#44a3d9" stroke-width="7" stroke-linejoin="round" paint-order="stroke">Effects</text>
<text x="574" y="305.2" font-size="15.2" fill="#f4f4f4" font-weight="bold" text-anchor="middle" stroke="#f4f4f4" stroke-width="0.35">Effects</text>
<rect x="628.7" y="231.2" width="98.9" height="136.6" fill="#e9ebed"/>
<path d="M640,259 L640,245 L655,245" fill="none" stroke="#254c6b" stroke-width="2.6"/>
<path d="M702,245 L717,245 L717,259" fill="none" stroke="#254c6b" stroke-width="2.6"/>
<path d="M640,306 L640,320.5 L655,320.5" fill="none" stroke="#254c6b" stroke-width="2.6"/>
<path d="M702,320.5 L717,320.5 L717,306" fill="none" stroke="#254c6b" stroke-width="2.6"/>
<rect x="649.0" y="252.0" width="19.7" height="19.7" fill="#a5a9ad" stroke="#a5a9ad" stroke-width="1.6"/>
<circle cx="658.9" cy="261.9" r="3" fill="#1f6ea3"/>
<rect x="668.7" y="252.0" width="19.7" height="19.7" fill="#f3f3f3" stroke="#a5a9ad" stroke-width="1.6"/>
<circle cx="678.6" cy="261.9" r="3" fill="#1f6ea3"/>
<rect x="688.4" y="252.0" width="19.7" height="19.7" fill="#f3f3f3" stroke="#a5a9ad" stroke-width="1.6"/>
<circle cx="698.2" cy="261.9" r="3" fill="#1f6ea3"/>
<rect x="649.0" y="271.7" width="19.7" height="19.7" fill="#f3f3f3" stroke="#a5a9ad" stroke-width="1.6"/>
<circle cx="658.9" cy="281.6" r="3" fill="#1f6ea3"/>
<rect x="668.7" y="271.7" width="19.7" height="19.7" fill="#a5a9ad" stroke="#a5a9ad" stroke-width="1.6"/>
<circle cx="678.6" cy="281.6" r="3" fill="#1f6ea3"/>
<rect x="688.4" y="271.7" width="19.7" height="19.7" fill="#f3f3f3" stroke="#a5a9ad" stroke-width="1.6"/>
<circle cx="698.2" cy="281.6" r="3" fill="#1f6ea3"/>
<rect x="649.0" y="291.4" width="19.7" height="19.7" fill="#f3f3f3" stroke="#a5a9ad" stroke-width="1.6"/>
<circle cx="658.9" cy="301.2" r="3" fill="#1f6ea3"/>
<rect x="668.7" y="291.4" width="19.7" height="19.7" fill="#f3f3f3" stroke="#a5a9ad" stroke-width="1.6"/>
<circle cx="678.6" cy="301.2" r="3" fill="#1f6ea3"/>
<rect x="688.4" y="291.4" width="19.7" height="19.7" fill="#a5a9ad" stroke="#a5a9ad" stroke-width="1.6"/>
<circle cx="698.2" cy="301.2" r="3" fill="#1f6ea3"/>
<text x="678.6" y="339.8" font-size="15.2" fill="#1d5f8f" font-weight="bold" text-anchor="middle" stroke="#1d5f8f" stroke-width="0.35">Toeplitz</text>
<text x="678.6" y="357.5" font-size="15.2" fill="#1d5f8f" font-weight="bold" text-anchor="middle" stroke="#1d5f8f" stroke-width="0.35">Covariance</text>
<rect x="634.5" y="194" width="26" height="10.5" rx="1" fill="#45a6dd" stroke="#255e8b" stroke-width="2"/>
<rect x="666" y="194" width="16.5" height="10.5" rx="1" fill="#255e8b" stroke="#255e8b" stroke-width="2"/>
<rect x="676" y="196" width="5" height="6.5" fill="#45a6dd"/>
<rect x="688" y="194" width="16.5" height="10.5" rx="1" fill="#255e8b" stroke="#255e8b" stroke-width="2"/>
<rect x="634.5" y="211.5" width="26" height="10.5" rx="1" fill="#255e8b" stroke="#255e8b" stroke-width="2"/>
<rect x="650" y="213.5" width="9" height="6.5" fill="#45a6dd"/>
<rect x="666" y="211.5" width="16.5" height="10.5" rx="1" fill="#45a6dd" stroke="#255e8b" stroke-width="2"/>
<rect x="688" y="211.5" width="16.5" height="10.5" rx="1" fill="#255e8b" stroke="#255e8b" stroke-width="2"/>
<line x1="675" y1="204" x2="675" y2="211" stroke="#235b85" stroke-width="2"/>
<circle cx="715.5" cy="199" r="3.6" fill="#eeeeee"/><circle cx="715.5" cy="217" r="3.6" fill="#eeeeee"/>
<rect x="634" y="376" width="24" height="9.5" rx="1" fill="#45a6dd" stroke="#255e8b" stroke-width="2"/>
<rect x="662" y="376" width="11.5" height="9.5" rx="1" fill="#45a6dd" stroke="#255e8b" stroke-width="2"/>
<rect x="677" y="376" width="12" height="9.5" rx="1" fill="#255e8b" stroke="#255e8b" stroke-width="2"/>
<rect x="634" y="391" width="24" height="10" rx="1" fill="#255e8b" stroke="#255e8b" stroke-width="2"/>
<rect x="636" y="393" width="8" height="6" fill="#45a6dd"/>
<rect x="662" y="391" width="11.5" height="10" rx="1" fill="#255e8b" stroke="#255e8b" stroke-width="2"/>
<rect x="677" y="391" width="12" height="10" rx="1" fill="#255e8b" stroke="#255e8b" stroke-width="2"/>
<rect x="488" y="143" width="172.3" height="42.5" fill="#e9ebed" stroke="#254c6b" stroke-width="2.6"/>
<text x="574.6" y="173.6" font-size="23.2" fill="#1b6397" font-weight="bold" text-anchor="middle" stroke="#1b6397" stroke-width="0.4">PROC MIXED</text>
<rect x="730" y="284" width="38" height="11.5" fill="#3f9fd9" stroke="#164d71" stroke-width="1.6"/>
<path d="M766,272.5 L792,288.7 L766,304.7 Z" fill="#3f9fd9" stroke="#164d71" stroke-width="2.3" stroke-linejoin="round"/>
<rect x="731" y="285" width="37" height="9.5" fill="#3f9fd9"/>
<path d="M821,197 L821,360.5 L998,360.5" fill="none" stroke="#a3a3a3" stroke-width="2.2"/>
<text x="811" y="182" font-size="16.5" fill="#1a1a1a" font-weight="normal" text-anchor="start" stroke="#1a1a1a" stroke-width="0.65">Yield Comparison Output</text>
<line x1="835" y1="203" x2="871" y2="203" stroke="#4a9a3f" stroke-width="2.5"/>
<line x1="835" y1="221" x2="871" y2="221" stroke="#1d6fa3" stroke-width="2.5" stroke-dasharray="7,4"/>
<text x="877" y="207" font-size="13.2" fill="#222" font-weight="normal" text-anchor="start" >Observed Yield</text>
<text x="877" y="225.3" font-size="13.3" fill="#222" font-weight="normal" text-anchor="start" >Modeled Yield</text>
<path d="M821,360 C840,320 850,290 866,278 C880,262 893,254 908,250.6 C925,247 935,246 949,245 C965,244 978,243.5 990,243.2" fill="none" stroke="#4a9a3f" stroke-width="2.6"/>
<path d="M821,360 C838,335 852,308 866,294 C880,278 893,266 908,258.6 C925,250 937,245 949,242 C965,239 978,237 990,235.1" fill="none" stroke="#1d6fa3" stroke-width="2.6" stroke-dasharray="7,4"/>
<circle cx="866" cy="278" r="3.9" fill="#fff" stroke="#4a9a3f" stroke-width="2.2"/>
<circle cx="908" cy="250.6" r="3.9" fill="#fff" stroke="#4a9a3f" stroke-width="2.2"/>
<circle cx="949" cy="245" r="3.9" fill="#fff" stroke="#4a9a3f" stroke-width="2.2"/>
<circle cx="990" cy="243.2" r="3.9" fill="#fff" stroke="#4a9a3f" stroke-width="2.2"/>
<circle cx="866" cy="294" r="3.9" fill="#fff" stroke="#1d6fa3" stroke-width="2.2"/>
<circle cx="908" cy="258.6" r="3.9" fill="#fff" stroke="#1d6fa3" stroke-width="2.2"/>
<circle cx="949" cy="242" r="3.9" fill="#fff" stroke="#1d6fa3" stroke-width="2.2"/>
<circle cx="990" cy="235.1" r="3.9" fill="#fff" stroke="#1d6fa3" stroke-width="2.2"/>
<text x="832" y="381" font-size="13.5" fill="#222" font-weight="normal" text-anchor="start" >Water Input (High to Low)</text>
<text x="0" y="0" font-size="13.5" fill="#222" text-anchor="middle" transform="translate(810,281) rotate(-90)">Yield (Tons/Ha)</text>
</svg>
<div id="copy">(c) https://www.wearecas.eu</div>
</body></html>
